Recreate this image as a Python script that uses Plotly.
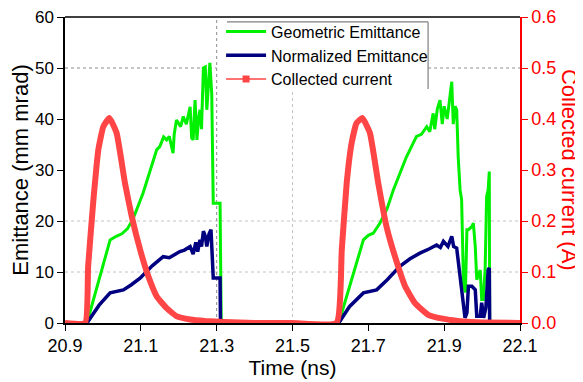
import plotly.graph_objects as go

# ---------------- data ----------------
geo1_t = [20.958, 21.019, 21.035, 21.05, 21.065, 21.08, 21.106, 21.142, 21.15, 21.16, 21.168, 21.175,
          21.185, 21.188, 21.194, 21.205, 21.212, 21.22, 21.23, 21.234, 21.238, 21.243, 21.248, 21.252,
          21.256, 21.26, 21.265, 21.27, 21.274, 21.282, 21.287, 21.289, 21.291, 21.309, 21.311, 21.312]
geo1_v = [0, 16.3, 17.0, 17.5, 18.5, 20.5, 25.5, 34.0, 34.6, 36.5, 35.9, 36.6,
          33.3, 37.0, 39.8, 38.5, 40.5, 39.0, 42.4, 36.3, 35.9, 43.7, 35.9, 40.0,
          41.8, 38.0, 50.0, 50.2, 41.8, 51.0, 45.0, 26.0, 23.5, 23.5, 8.9, 0]

norm1_t = [20.958, 20.99, 21.019, 21.04, 21.054, 21.075, 21.098, 21.13, 21.159, 21.175, 21.19, 21.203,
           21.215, 21.23, 21.238, 21.245, 21.25, 21.256, 21.26, 21.265, 21.27, 21.274, 21.28, 21.285,
           21.289, 21.291, 21.309, 21.31]
norm1_v = [0, 3.5, 5.9, 6.2, 6.5, 7.5, 8.8, 11.2, 13.0, 12.8, 13.5, 14.0,
           14.3, 15.0, 13.5, 15.8, 14.0, 16.3, 15.0, 18.0, 17.0, 15.0, 17.5, 18.3,
           12.0, 8.8, 8.8, 0]

geo2_t = [21.622, 21.687, 21.70, 21.713, 21.73, 21.75, 21.766, 21.80, 21.827, 21.84, 21.854, 21.862,
          21.871, 21.875, 21.882, 21.889, 21.895, 21.90, 21.908, 21.915, 21.92, 21.924, 21.929, 21.933,
          21.937, 21.942, 21.946, 21.951, 21.956, 21.960, 21.964, 21.973, 21.977, 21.982, 21.986, 21.995,
          21.999, 22.003, 22.008, 22.012, 22.016, 22.019, 22.020]
geo2_v = [0, 16.3, 17.2, 17.6, 19.5, 22.5, 26.1, 32.5, 36.6, 37.0, 38.5, 37.5,
          41.1, 38.0, 42.0, 43.7, 39.0, 42.5, 40.0, 44.0, 47.3, 39.0, 42.5, 41.8,
          32.6, 26.1, 24.2, 7.8, 6.0, 18.3, 18.3, 18.9, 19.6, 15.0, 8.5, 10.4,
          4.6, 4.6, 10.4, 24.8, 26.1, 29.7, 0]

norm2_t = [21.622, 21.65, 21.687, 21.722, 21.75, 21.783, 21.81, 21.836, 21.86, 21.88, 21.89, 21.898,
           21.91, 21.92, 21.925, 21.933, 21.942, 21.946, 21.95, 21.955, 21.96, 21.964, 21.973, 21.982,
           21.986, 21.995, 21.999, 22.004, 22.01, 22.016, 22.019, 22.02]
norm2_v = [0, 3.2, 5.9, 6.5, 8.5, 11.1, 12.6, 13.7, 14.5, 15.3, 14.8, 16.0,
           15.0, 17.0, 15.0, 14.7, 9.1, 6.5, 3.0, 1.0, 2.0, 7.2, 7.2, 6.5,
           1.3, 1.3, 4.0, 1.0, 3.0, 10.4, 10.8, 0]

cur_t = [20.90, 20.953, 20.961, 20.975, 20.988, 21.001, 21.017, 21.036, 21.058, 21.076, 21.098, 21.12,
         21.142, 21.168, 21.195, 21.23, 21.27, 21.32, 21.40, 21.50, 21.616, 21.630, 21.643, 21.656,
         21.669, 21.684, 21.704, 21.726, 21.748, 21.770, 21.797, 21.823, 21.858, 21.90, 21.95, 22.0,
         22.1]
cur_v = [0, 0, 0.111, 0.242, 0.34, 0.385, 0.402, 0.373, 0.275, 0.209, 0.144, 0.091,
         0.052, 0.029, 0.013, 0.007, 0.004, 0.002, 0, 0, 0, 0.144, 0.275, 0.353,
         0.392, 0.402, 0.373, 0.275, 0.189, 0.131, 0.072, 0.039, 0.016, 0.008, 0.003, 0.001,
         0]

x_ticks = [20.9, 21.1, 21.3, 21.5, 21.7, 21.9, 22.1]

GREEN = "#00f000"
NAVY = "#000080"
RED = "#ff4545"
FONT = "Liberation Sans, Arial, sans-serif"
LIGHT = "#c4c4c4"
DARK = "#8c8c8c"

fig = go.Figure()

fig.add_trace(go.Scatter(x=geo1_t, y=geo1_v, mode="lines", line=dict(color=GREEN, width=3),
                         name="Geometric Emittance", legendgroup="g"))
fig.add_trace(go.Scatter(x=geo2_t, y=geo2_v, mode="lines", line=dict(color=GREEN, width=3),
                         showlegend=False, legendgroup="g"))
fig.add_trace(go.Scatter(x=norm1_t, y=norm1_v, mode="lines", line=dict(color=NAVY, width=3.5),
                         name="Normalized Emittance", legendgroup="n"))
fig.add_trace(go.Scatter(x=norm2_t, y=norm2_v, mode="lines", line=dict(color=NAVY, width=3.5),
                         showlegend=False, legendgroup="n"))
fig.add_trace(go.Scatter(x=cur_t, y=cur_v, mode="lines", yaxis="y2",
                         line=dict(color=RED, width=6, shape="spline", smoothing=0.4),
                         showlegend=False, legendgroup="c"))
# legend-only entry for the current trace (thin line with square marker)
fig.add_trace(go.Scatter(x=[None], y=[None], mode="lines+markers", yaxis="y2",
                         line=dict(color=RED, width=1.5),
                         marker=dict(symbol="square", size=7, color=RED),
                         name="Collected current", legendgroup="c"))

LEG_L, LEG_R, LEG_T, LEG_B = 0.356, 0.798, 0.984, 0.765

def dotted(col, **kw):
    d = dict(type="line", line=dict(color=col, width=1, dash="dot"), layer="below")
    d.update(kw)
    return d

shapes = [
    # horizontal grid lines
    dotted(LIGHT, xref="paper", x0=0, x1=1, yref="y", y0=10, y1=10),
    dotted(LIGHT, xref="paper", x0=0, x1=1, yref="y", y0=20, y1=20),
    dotted(DARK, xref="x", x0=20.9, x1=21.3, yref="y", y0=50, y1=50),
    dotted(DARK, xref="paper", x0=LEG_R, x1=1, yref="y", y0=50, y1=50),
    # vertical grid lines
    dotted(DARK, yref="paper", y0=0, y1=1, xref="x", x0=21.3, x1=21.3),
    dotted(LIGHT, yref="paper", y0=0, y1=LEG_B, xref="x", x0=21.5, x1=21.5),
    # legend frame (top and right edges only)
    dict(type="line", xref="paper", yref="paper", x0=LEG_L, x1=LEG_R, y0=LEG_T, y1=LEG_T,
         line=dict(color="#808080", width=1.2)),
    dict(type="line", xref="paper", yref="paper", x0=LEG_R, x1=LEG_R, y0=LEG_T, y1=LEG_B,
         line=dict(color="#808080", width=1.2)),
    # top border line
    dict(type="line", xref="paper", yref="paper", x0=0, x1=1, y0=1, y1=1,
         line=dict(color="black", width=1.5)),
]

# the page body adds an 8px margin, so the figure is 8px smaller than the window
fig.update_layout(
    width=575, height=374,
    margin=dict(l=57, r=63, t=9, b=59, autoexpand=False),
    paper_bgcolor="white", plot_bgcolor="white",
    font=dict(family=FONT, size=17, color="black"),
    showlegend=True,
    legend=dict(x=0.343, y=1.008, xanchor="left", yanchor="top",
                bgcolor="rgba(0,0,0,0)", borderwidth=0,
                font=dict(family=FONT, size=16, color="black"),
                tracegroupgap=0, itemwidth=40),
    xaxis=dict(range=[20.9, 22.1], tickvals=x_ticks, ticktext=[f"{v:.1f}" for v in x_ticks],
               showgrid=False, zeroline=False, showline=True, linecolor="black", linewidth=1.5,
               ticks="outside", ticklen=6, tickcolor="black", automargin=False,
               tickfont=dict(size=18), ticklabeloverflow="allow",
               title=dict(text="Time (ns)", font=dict(size=21), standoff=4)),
    yaxis=dict(range=[0, 60], dtick=10, showgrid=False, zeroline=False, showline=True,
               linecolor="black", linewidth=1.5, ticks="outside", ticklen=6, tickcolor="black",
               automargin=False, tickfont=dict(size=17), ticklabeloverflow="allow",
               title=dict(text="Emittance (mm mrad)", font=dict(size=22), standoff=4)),
    yaxis2=dict(range=[0, 0.6], dtick=0.1, tickformat=".1f", overlaying="y", side="right",
                showgrid=False, zeroline=False, showline=True, linecolor="red", linewidth=1.5,
                ticks="outside", ticklen=6, tickcolor="red", tickfont=dict(color="red", size=18),
                automargin=False, ticklabeloverflow="allow"),
    shapes=shapes,
    annotations=[dict(text="Collected current (A)", xref="paper", yref="paper", x=1.11, y=0.5,
                      textangle=90, showarrow=False, font=dict(family=FONT, size=22, color="red"),
                      xanchor="center", yanchor="middle")],
)

fig.write_html("out.html")
